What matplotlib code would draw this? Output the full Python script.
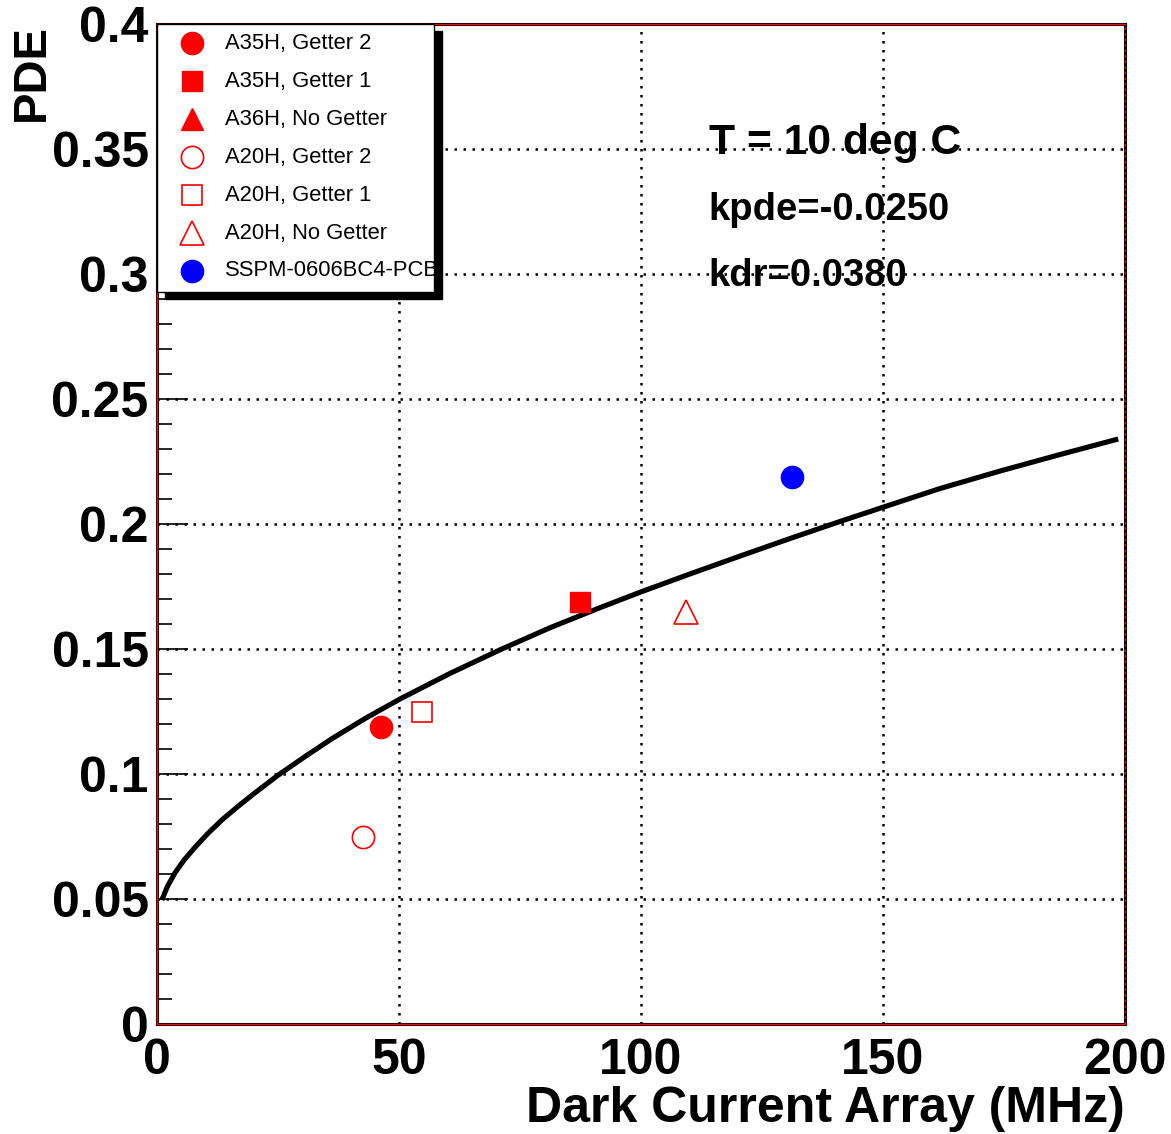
import matplotlib
matplotlib.use('Agg')
import matplotlib.pyplot as plt
from matplotlib.patches import Rectangle
from matplotlib.ticker import MultipleLocator

plt.rcParams['font.family'] = ['Liberation Sans', 'DejaVu Sans']

# ---------------- data ----------------
series_labels = ["A35H, Getter 2", "A35H, Getter 1", "A36H, No Getter",
                 "A20H, Getter 2", "A20H, Getter 1", "A20H, No Getter",
                 "SSPM-0606BC4-PCB"]
series_x = [[46.3], [87.4], [], [42.6], [54.8], [109.3], [131.2]]
series_y = [[0.119], [0.169], [], [0.075], [0.125], [0.165], [0.219]]

fit_x = [1.0, 2.2, 3.7, 5.6, 7.9, 10.5, 13.4, 16.7, 20.2, 25.0, 30.6, 36.2,
         43.0, 50.2, 60.5, 70.9, 81.2, 91.5, 99.8, 110.1, 120.5, 130.8,
         141.1, 151.4, 161.8, 174.2, 186.6, 198.6]
fit_y = [0.0496, 0.0552, 0.0604, 0.0656, 0.0708, 0.0762, 0.0816, 0.0870,
         0.0924, 0.0995, 0.1070, 0.1142, 0.1222, 0.1300, 0.1402, 0.1497,
         0.1585, 0.1665, 0.1727, 0.1800, 0.1872, 0.1942, 0.2010, 0.2076,
         0.2142, 0.2212, 0.2278, 0.2340]

x_ticks = [0, 50, 100, 150, 200]
x_ticklabels = ['0', '50', '100', '150', '200']
y_ticks = [0, 0.05, 0.1, 0.15, 0.2, 0.25, 0.3, 0.35, 0.4]
y_ticklabels = ['0', '0.05', '0.1', '0.15', '0.2', '0.25', '0.3', '0.35', '0.4']

annotations = ["T = 10 deg C", "kpde=-0.0250", "kdr=0.0380"]

x_label = "Dark Current Array (MHz)"
y_label = "PDE"

# ---------------- styles ----------------
styles = [
    dict(marker='o', ms=16, mfc='red', mec='red', mew=1.0),
    dict(marker='s', ms=15, mfc='red', mec='red', mew=1.0),
    dict(marker='^', ms=16, mfc='red', mec='red', mew=1.0),
    dict(marker='o', ms=16, mfc='none', mec='red', mew=1.2),
    dict(marker='s', ms=15, mfc='none', mec='red', mew=1.2),
    dict(marker='^', ms=17, mfc='none', mec='red', mew=1.2),
    dict(marker='o', ms=16, mfc='blue', mec='blue', mew=1.0),
]

W, H = 1171, 1134
fig = plt.figure(figsize=(W / 100, H / 100), dpi=100)
ax = fig.add_axes([157 / W, (H - 1024) / H, (1125 - 157) / W, (1024 - 24) / H])

ax.set_xlim(0, 200)
ax.set_ylim(0, 0.4)

ax.set_xticks(x_ticks)
ax.set_xticklabels(x_ticklabels)
ax.set_yticks(y_ticks)
ax.set_yticklabels(y_ticklabels)
ax.yaxis.set_minor_locator(MultipleLocator(0.01))

ax.grid(True, which='major', color='black', linestyle=(0, (1, 2.6)), linewidth=1.8)
ax.set_axisbelow(True)

# fit curve
ax.plot(fit_x, fit_y, color='black', lw=3.7, solid_capstyle='butt',
        solid_joinstyle='round', zorder=3)

# data points
for xs, ys, st in zip(series_x, series_y, styles):
    if xs:
        ax.plot(xs, ys, linestyle='none', zorder=4, **st)

# ticks
ax.tick_params(axis='y', which='major', direction='in', length=22, width=1.2,
               labelsize=36, pad=6, right=False)
ax.tick_params(axis='y', which='minor', direction='in', length=11, width=1.2, right=False)
ax.tick_params(axis='x', which='major', direction='in', length=0, labelsize=36, pad=10,
               top=False)
for lab in ax.get_xticklabels() + ax.get_yticklabels():
    lab.set_fontweight('bold')

for s in ax.spines.values():
    s.set_color('black')
    s.set_linewidth(2.2)
# red frame overlay
ax.plot([0, 0, 1], [1, 0, 0], transform=ax.transAxes, color='red', lw=1.0,
        clip_on=False, zorder=6)
ax.plot([0, 1], [1, 1], transform=ax.transAxes, color='red', lw=1.0,
        clip_on=False, zorder=6)
ax.plot([1, 1], [0, 1], transform=ax.transAxes, color='red', lw=1.0,
        linestyle=(0, (2, 2)), clip_on=False, zorder=6)

# axis labels
ax.set_xlabel(x_label, fontsize=36, fontweight='bold')
ax.xaxis.set_label_coords(1.0, (1024 - 1109) / 1000)
ax.xaxis.label.set_ha('right')
ax.xaxis.label.set_va('center')
ax.set_ylabel(y_label, fontsize=34, fontweight='bold')
ax.yaxis.set_label_coords((32 - 157) / 968, 1.0)
ax.yaxis.label.set_rotation_mode('anchor')
ax.yaxis.label.set_ha('right')
ax.yaxis.label.set_va('center')

# annotations
ax.text(114.0, 0.3524, annotations[0], fontsize=30.7, fontweight='bold', va='center', ha='left')
ax.text(114.0, 0.3256, annotations[1], fontsize=27.5, fontweight='bold', va='center', ha='left')
ax.text(114.0, 0.2992, annotations[2], fontsize=27.5, fontweight='bold', va='center', ha='left')

# legend (manual, ROOT-style with solid shadow)
ov = fig.add_axes([0, 0, 1, 1], facecolor='none')
ov.set_xlim(0, W)
ov.set_ylim(H, 0)
ov.axis('off')
lx0, ly0, lx1, ly1 = 157, 24, 434, 292
ov.add_patch(Rectangle((lx0 + 8, ly0 + 7), lx1 - lx0, ly1 - ly0, facecolor='black',
                       edgecolor='black', zorder=1))
box = Rectangle((lx0, ly0), lx1 - lx0, ly1 - ly0, facecolor='white',
                edgecolor='black', lw=1.0, zorder=2)
ov.add_patch(box)
for i, (lab, st) in enumerate(zip(series_labels, styles)):
    yy = 43 + 38 * i
    ov.plot([192], [yy], linestyle='none', zorder=3, **st)
    t = ov.text(225, yy, lab, fontsize=15.8, va='center', ha='left', zorder=3)
    t.set_clip_path(box)

fig.savefig('out.png', dpi=100)
